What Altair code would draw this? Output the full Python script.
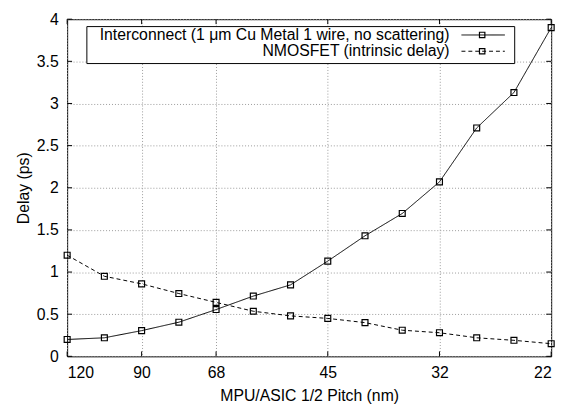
import altair as alt
import pandas as pd

# ---- data ----
node_index = list(range(14))
half_pitch = [120, 107, 90, 80, 68, 57, 50, 45, 40, 36, 32, 28, 25, 22]
interconnect_delay = [0.20, 0.22, 0.305, 0.405, 0.555, 0.715, 0.848, 1.13, 1.43, 1.695, 2.07, 2.71, 3.13, 3.90]
nmosfet_delay = [1.20, 0.95, 0.86, 0.745, 0.64, 0.535, 0.48, 0.45, 0.40, 0.31, 0.28, 0.22, 0.19, 0.15]
x_tick_index = [0, 2, 4, 7, 10, 13]
y_ticks = [0, 0.5, 1, 1.5, 2, 2.5, 3, 3.5, 4]
series_names = ["Interconnect (1 μm Cu Metal 1 wire, no scattering)", "NMOSFET (intrinsic delay)"]

W, H = 491, 342
FONT = "Liberation Sans"
FS = 16

df = pd.DataFrame({
    "idx": node_index * 2,
    "delay": interconnect_delay + nmosfet_delay,
    "series": [series_names[0]] * 14 + [series_names[1]] * 14,
})
label_expr = "[" + ",".join(f"'{p}'" for p in half_pitch) + "][datum.value]"

x_axis = alt.Axis(values=x_tick_index, labelExpr=label_expr, title="MPU/ASIC 1/2 Pitch (nm)",
                  grid=True, ticks=False, domain=False, labelPadding=8, titlePadding=8)
y_axis = alt.Axis(values=y_ticks, labelExpr="format(datum.value, '~g')", title="Delay (ps)", grid=True,
                  ticks=False, domain=False, labelPadding=9, titlePadding=5)
x_scale = alt.Scale(domain=[0, 13], nice=False, zero=False)
y_scale = alt.Scale(domain=[0, 4], nice=False)

dash_scale = alt.Scale(domain=series_names, range=[[1, 0], [4, 3]])

lines = alt.Chart(df).mark_line(color="black", strokeWidth=1).encode(
    x=alt.X("idx:Q", scale=x_scale, axis=x_axis),
    y=alt.Y("delay:Q", scale=y_scale, axis=y_axis),
    strokeDash=alt.StrokeDash("series:N", scale=dash_scale, legend=None),
    detail="series:N",
)
points = alt.Chart(df).mark_point(shape="square", filled=False, color="black", size=36, strokeWidth=1.2, opacity=1).encode(
    x="idx:Q", y="delay:Q", detail="series:N"
)

# inward tick marks (gnuplot style)
xt = pd.DataFrame({"idx": x_tick_index})
yt = pd.DataFrame({"delay": y_ticks})
tick_bottom = alt.Chart(xt).mark_rule(color="black").encode(x="idx:Q", y=alt.value(H), y2=alt.value(H - 5))
tick_top = alt.Chart(xt).mark_rule(color="black").encode(x="idx:Q", y=alt.value(0), y2=alt.value(5))
tick_left = alt.Chart(yt).mark_rule(color="black").encode(y="delay:Q", x=alt.value(0), x2=alt.value(5))
tick_right = alt.Chart(yt).mark_rule(color="black").encode(y="delay:Q", x=alt.value(W), x2=alt.value(W - 5))

# legend box (gnuplot style: label right-aligned, sample on the right)
one = alt.Data(values=[{"a": 0}])
leg_box = alt.Chart(one).mark_rect(fill="white", stroke="black", strokeWidth=1).encode(
    x=alt.value(20), x2=alt.value(454), y=alt.value(7.5), y2=alt.value(45))

row_y = [16, 32.5]
dashes = [[1, 0], [4, 3]]
legend_layers = []
for name, ry, dash in zip(series_names, row_y, dashes):
    legend_layers.append(alt.Chart(one).mark_rule(color="black", strokeWidth=1, strokeDash=dash).encode(
        x=alt.value(400), x2=alt.value(444), y=alt.value(ry)))
    legend_layers.append(alt.Chart(one).mark_point(shape="square", filled=False, color="black", size=30,
                                                   strokeWidth=1.2, opacity=1).encode(
        x=alt.value(421), y=alt.value(ry)))
    legend_layers.append(alt.Chart(one).mark_text(align="right", baseline="middle", font=FONT, fontSize=FS,
                                                  color="black", text=name).encode(
        x=alt.value(388), y=alt.value(ry)))

chart = alt.layer(
    lines, points, tick_bottom, tick_top, tick_left, tick_right, leg_box, *legend_layers
).properties(
    width=W, height=H,
    autosize=alt.AutoSizeParams(type="none"),
    padding={"left": 60, "top": 8.5, "right": 12, "bottom": 46},
).configure_view(stroke="black", strokeWidth=1).configure_axis(
    labelFont=FONT, titleFont=FONT, labelFontSize=FS, titleFontSize=FS,
    labelColor="black", titleColor="black", titleFontWeight="normal",
    gridColor="#9a9a9a", gridDash=[1, 2], gridWidth=1,
)

chart.save("out.html", embed_options={"renderer": "svg", "actions": False})
